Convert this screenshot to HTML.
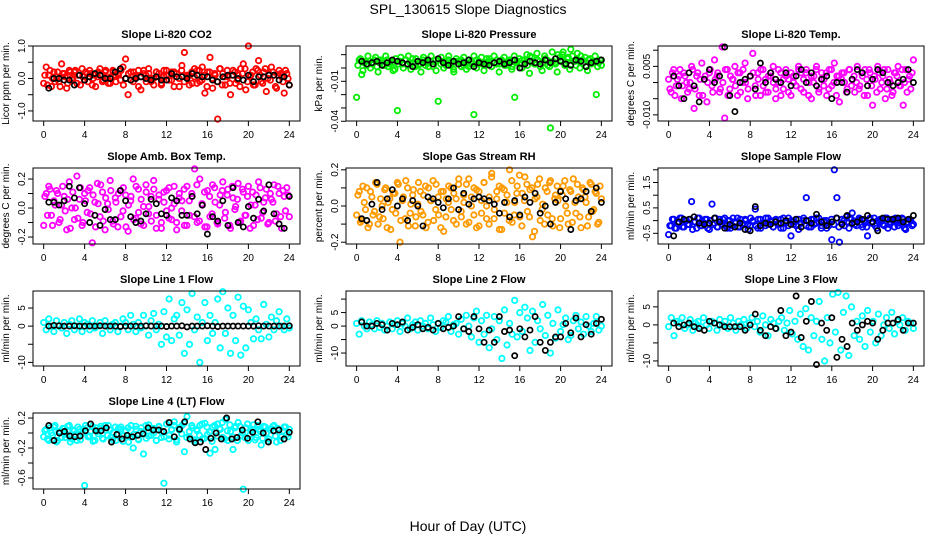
<!DOCTYPE html>
<html><head><meta charset="utf-8">
<style>
html,body{margin:0;padding:0;background:#fff;}
svg{display:block;font-family:"Liberation Sans",Arial,sans-serif;}
</style></head>
<body>
<svg id="chart" width="936" height="540" viewBox="0 0 936 540" xmlns="http://www.w3.org/2000/svg">
<rect x="0" y="0" width="936" height="540" fill="#fff"/>
<text x="468" y="14" text-anchor="middle" font-size="14">SPL_130615  Slope Diagnostics</text>
<text x="468" y="531" text-anchor="middle" font-size="14">Hour of Day (UTC)</text>
</svg>
<script>
const xTicks = [0,4,8,12,16,20,24];

const p1Color = [-0.15,0.35,0.1,-0.25,0.2,0.05,-0.1,0.45,0.15,-0.3,0.25,0,0.2,-0.15,0.1,0.3,-0.05,0.15,0.25,-0.2,0.1,0.05,0.3,-0.1,0.2,0,-0.15,0.25,0.1,0.15,-0.05,0.35,0.6,-0.5,0.2,-0.1,0.05,0.25,-0.35,0.15,0.1,0.3,-0.1,0,0.2,0.15,-0.2,0.05,0.25,0.1,-0.05,0.2,0.15,-0.25,0.4,0.8,0.05,0.1,-0.15,0.3,0.25,-0.1,0.35,-0.45,0.2,0.65,-0.3,0.1,-1.25,0.3,0.15,-0.2,0.05,-0.5,0.25,-0.15,0.1,0.3,0.45,-0.35,1.0,0.1,-0.2,0.3,0.55,-0.1,0.2,-0.4,0.15,0.35,0.1,-0.3,0.25,0.05,-0.45,0.15,-0.2];
const p1Color2 = [0.1,-0.2,0.25,0,-0.1,0.2,-0.25,0.15,0.05,-0.15,0.2,-0.05,0.25,0.1,-0.2,0.05,0.2,-0.1,0.15,0,-0.25,0.2,0.1,-0.05,0.25,-0.15,0.05,0.2,-0.1,0.1,0.25,-0.2,0.0,0.15,-0.05,0.2,0.1,-0.25,0.05,0.25,-0.1,0.15,0,-0.2,0.2,0.05,-0.15,0.25,0.1,-0.05,0.2,-0.25,0.15,0,0.25,-0.1,0.1,-0.2,0.2,0.05,-0.15,0.25,-0.05,0.1,-0.25,0.2,0,0.15,-0.1,0.3,-0.2,0.05,0.25,-0.15,0.1,0.2,-0.05,-0.25,0.15,0.3,-0.1,0.05,0.2,-0.2,0.25,0.1,-0.15,0.3,0,-0.05,0.2,-0.25,0.1,0.15,-0.1,0.25,0];
const p1Black = [-0.3,0,0,-0.05,-0.05,-0.2,0.1,-0.05,0.05,0.15,0.1,0,0,0.2,0.3,0,-0.05,0,0.05,0,-0.05,0.05,-0.05,-0.05,0.15,0.05,0.05,0,0.15,0.1,0.05,0.05,-0.05,-0.1,0.05,0.1,0.1,0,-0.05,0.1,-0.1,0.05,0.05,0.1,0.1,-0.05,0.05,-0.2];

const p2Color = [-0.022,0.006,-0.005,0.004,0.002,0.005,0.003,0.006,0.001,0.004,0.005,0.002,0.006,0.003,0.004,-0.001,-0.032,0.005,0.003,0.006,0.002,0.004,0.007,0.001,0.005,0.003,0.006,0.002,0.004,0.005,0.001,0.006,-0.025,0.003,0.005,0.002,0.006,0.004,-0.001,0.005,0.003,0.006,0.002,0.004,0.001,0.005,-0.035,0.006,0.003,0.004,0.002,0.007,0.005,0.001,0.004,0.006,0.003,0.005,0.002,0.004,0.006,0.001,-0.022,0.005,0.003,0.006,0.004,0.002,0.009,0.005,0.003,0.006,0.001,0.004,0.007,0.002,-0.045,0.005,0.003,0.010,0.006,0.012,0.004,0.008,0.014,0.005,0.002,0.006,0.009,0.004,0.001,0.006,0.003,0.005,-0.02,0.004,0.002];
const p2Color2 = [0.002,0.007,-0.002,0.005,0.009,0.0,0.004,0.008,-0.003,0.006,0.002,0.009,0.001,0.005,-0.002,0.007,0.003,0.008,0.0,0.006,0.009,-0.001,0.004,0.007,0.002,-0.003,0.008,0.005,0.001,0.009,0.003,-0.002,0.006,0.008,0.0,0.004,0.009,0.002,-0.003,0.007,0.005,0.001,0.008,-0.001,0.006,0.003,0.009,0.0,0.005,0.008,-0.002,0.004,0.007,0.001,0.009,0.003,-0.003,0.006,0.008,0.002,0.005,-0.001,0.009,0.004,0.007,0.0,0.006,0.01,-0.004,0.008,0.003,0.011,0.005,-0.002,0.009,0.006,0.001,0.012,0.004,-0.003,0.008,0.01,0.002,0.007,-0.001,0.009,0.005,0.011,0.0,0.006,0.008,-0.002,0.007,0.004,0.009,0.001,0.006];
const p2Black = [0.005,0.003,0.004,0.005,0.002,0.004,0.006,0.005,0.004,0.003,0.001,0.005,0.004,0.006,0.003,0.007,0.004,0.002,0.005,0.003,0.004,0.006,0.001,0.004,0.003,0.002,0.004,0.005,0.003,0.004,0.006,0.0,0.003,0.005,0.004,0.003,0.006,0.004,0.007,0.005,0.003,0.002,0.006,0.005,0.001,0.004,0.005,0.006];

const p3Color = [0.001,-0.003,0.004,-0.001,0.002,-0.005,0.003,0.0,-0.002,0.005,-0.008,0.002,-0.004,0.006,0.001,-0.006,0.003,-0.001,0.007,0.002,-0.003,0.011,-0.011,0.004,-0.002,0.001,0.005,-0.004,0.003,0.0,0.006,-0.005,0.002,0.009,-0.001,0.003,-0.004,0.004,0.001,-0.003,0.002,0.005,-0.005,0.0,0.003,-0.002,0.004,0.001,-0.004,0.002,-0.001,0.005,0.003,-0.003,0.004,0.0,-0.005,0.002,0.005,-0.002,0.003,0.001,-0.004,0.004,-0.001,0.006,0.002,-0.006,0.003,0.0,-0.002,0.004,0.001,-0.003,0.005,-0.001,0.002,0.004,-0.004,0.003,-0.007,0.001,0.005,-0.002,0.002,-0.005,0.004,0.0,-0.003,0.003,0.005,-0.001,-0.007,0.004,0.001,-0.002,0.007];
const p3Color2 = [-0.002,0.003,-0.004,0.001,0.004,-0.001,0.002,-0.003,0.0,0.004,-0.002,0.003,0.001,-0.004,0.002,0.0,0.004,-0.003,0.001,0.003,-0.002,0.0,0.004,-0.004,0.002,0.001,-0.001,0.003,-0.003,0.004,0.0,-0.002,0.002,0.003,-0.004,0.001,0.004,-0.001,-0.003,0.002,0.003,0.0,-0.002,0.004,-0.004,0.001,0.002,-0.003,0.003,0.0,-0.001,0.004,-0.002,0.001,0.003,-0.004,0.002,0.0,0.004,-0.003,0.001,-0.001,0.003,-0.002,0.004,0.0,-0.004,0.002,0.001,0.003,-0.003,0.004,-0.001,0.002,0.0,-0.002,0.003,-0.004,0.001,0.004,-0.001,0.002,-0.003,0.003,0.0,0.004,-0.002,0.001,-0.004,0.003,0.002,-0.001,0.004,0.0,-0.003,0.002,0.003];
const p3Black = [0.002,-0.001,-0.005,0.003,-0.001,-0.006,0.001,0.004,0.0,0.002,0.011,-0.004,-0.009,0.0,0.001,0.002,-0.002,0.006,0.0,0.003,0.001,0.0,0.003,-0.001,0.002,0.004,0.0,0.003,-0.001,0.001,0.002,-0.005,0.0,0.0,-0.003,0.001,0.004,0.003,-0.001,0.001,0.004,0.003,0.0,-0.001,0.0,0.001,0.004,0.0];

const p4Color = [-0.12,0.1,0.15,-0.05,0.05,0.12,-0.1,0.02,0.08,-0.15,0.18,0.0,-0.08,0.22,0.06,-0.12,0.1,-0.03,0.14,-0.24,0.04,0.17,-0.06,0.11,-0.15,0.03,0.19,-0.09,0.07,-0.13,0.12,-0.02,0.09,-0.16,0.05,0.2,-0.07,0.13,-0.11,0.01,0.16,-0.04,0.08,0.19,-0.14,0.06,-0.1,0.11,-0.02,0.14,-0.08,0.03,-0.15,0.1,0.05,-0.12,0.15,-0.05,0.08,0.27,-0.1,0.2,0.02,-0.13,0.12,-0.06,0.16,0.04,-0.11,0.09,0.18,-0.03,0.13,-0.14,0.07,0.01,0.17,-0.09,0.11,-0.05,0.15,0.02,-0.12,0.09,0.18,-0.07,0.04,0.13,-0.1,0.06,0.16,-0.04,0.1,-0.14,0.08,0.14,-0.06];
const p4Color2 = [0.08,-0.05,0.13,-0.12,0.02,0.1,-0.08,0.15,-0.02,0.06,-0.14,0.11,0.0,-0.07,0.14,-0.1,0.05,0.12,-0.04,0.09,-0.13,0.03,0.16,-0.09,0.07,-0.01,0.12,-0.11,0.04,0.1,-0.06,0.14,-0.13,0.02,0.08,-0.08,0.15,-0.03,0.06,-0.12,0.11,0.01,-0.09,0.13,-0.05,0.09,-0.14,0.04,0.12,-0.07,0.0,0.15,-0.1,0.07,-0.02,0.13,-0.12,0.05,0.1,-0.06,0.16,-0.09,0.03,0.11,-0.13,0.08,-0.04,0.14,-0.1,0.02,0.12,-0.07,0.09,-0.12,0.15,-0.01,0.06,-0.1,0.13,-0.05,0.08,-0.14,0.11,0.02,-0.08,0.14,-0.03,0.07,-0.11,0.1,0.04,-0.09,0.15,-0.06,0.12,-0.02,0.09];
const p4Black = [0.04,0.04,0.02,0.05,0.15,0.07,0.14,0.03,-0.1,-0.05,-0.12,-0.01,-0.08,-0.08,0.12,0.05,-0.06,-0.1,-0.09,-0.04,0.06,0.03,-0.04,-0.05,0.07,0.05,-0.05,-0.05,0.08,-0.04,0.02,-0.18,-0.06,-0.09,0.05,-0.12,0.14,-0.1,-0.13,0.01,-0.07,0.06,-0.02,0.16,-0.04,-0.11,-0.14,0.08];

const p5Color = [-0.05,0.08,-0.08,0.02,0.1,-0.1,0.05,-0.03,0.12,-0.06,0.0,0.09,-0.12,0.04,-0.02,0.07,0.13,-0.2,0.03,-0.07,0.1,-0.04,0.06,-0.11,0.01,0.08,-0.05,0.11,-0.09,0.03,0.14,-0.02,0.05,-0.12,0.08,-0.06,0.02,0.1,-0.08,0.04,0.12,-0.03,0.06,-0.1,0.15,0.0,-0.05,0.09,-0.11,0.03,0.13,-0.07,0.05,0.18,-0.02,0.08,-0.13,0.1,-0.04,0.06,0.2,-0.09,0.02,0.11,-0.06,0.07,0.16,-0.03,0.09,-0.17,0.04,0.12,-0.08,0.01,0.1,-0.05,0.14,-0.11,0.06,0.03,-0.07,0.11,0.0,-0.1,0.08,0.15,-0.04,0.05,-0.12,0.09,0.02,-0.06,0.12,-0.02,0.07,-0.09,0.04];
const p5Color2 = [0.06,-0.09,0.11,-0.02,-0.12,0.08,-0.05,0.13,-0.1,0.04,-0.07,0.1,0.02,-0.13,0.07,-0.04,0.12,-0.08,0.05,0.14,-0.11,0.01,0.09,-0.06,0.13,-0.03,0.06,-0.12,0.1,0.03,-0.08,0.12,-0.05,0.08,-0.14,0.04,0.11,-0.02,0.07,-0.1,0.15,-0.06,0.02,0.12,-0.09,0.05,0.1,-0.12,0.08,-0.04,0.13,0.0,-0.1,0.16,-0.07,0.04,0.11,-0.13,0.09,0.02,-0.08,0.14,-0.05,0.07,0.17,-0.11,0.03,0.12,-0.06,0.1,-0.14,0.05,0.15,-0.02,-0.1,0.08,0.13,-0.07,0.04,0.11,-0.12,0.06,0.14,-0.04,0.09,-0.09,0.02,0.12,-0.06,0.1,0.05,-0.11,0.13,-0.03,0.08,-0.1,0.11];
const p5Black = [-0.07,-0.08,0.01,0.13,-0.02,0.04,0.09,0.0,0.04,-0.08,0.03,0.0,-0.11,0.05,0.04,0.02,-0.01,0.04,0.1,-0.02,0.07,0.01,0.04,0.05,0.04,0.03,0.01,-0.04,0.02,-0.06,0.03,-0.05,0.05,0.02,0.07,-0.04,0.0,-0.1,0.02,0.08,0.04,-0.13,0.03,0.04,0.08,-0.03,0.1,0.02];

const p6Color = [-0.55,-0.2,0.05,-0.3,-0.1,0.1,-0.25,0.0,-0.15,0.75,-0.05,-0.3,0.1,-0.2,-0.1,0.05,-0.35,0.65,-0.1,-0.25,0.05,-0.15,0.1,-0.3,0.0,-0.2,-0.05,0.1,-0.25,-0.1,0.05,-0.15,-0.2,0.0,0.45,-0.3,0.05,-0.1,-0.2,0.1,-0.05,-0.25,0.0,-0.15,0.05,-0.3,-0.1,0.1,-0.6,-0.05,-0.2,0.05,-0.1,0.0,0.9,-0.25,0.05,-0.15,0.1,-0.05,-0.2,0.0,-0.3,-0.1,-0.75,2.0,0.9,-0.85,0.05,-0.2,-0.05,0.1,0.3,-0.15,0.0,0.05,-0.25,-0.1,-0.6,0.1,-0.05,-0.2,0.0,0.05,-0.15,0.1,-0.3,-0.05,0.0,0.1,-0.2,-0.05,0.05,-0.35,-0.1,0.0,-0.15];
const p6Color2 = [-0.2,0.05,-0.3,-0.1,0.1,-0.25,0.0,-0.15,0.05,-0.35,-0.05,0.1,-0.2,-0.1,0.05,-0.3,0.0,-0.15,0.1,-0.25,-0.05,0.05,-0.2,0.0,-0.3,0.1,-0.1,-0.25,0.05,-0.15,0.0,-0.35,0.1,-0.05,-0.2,0.05,-0.3,-0.1,0.1,-0.15,0.0,-0.25,0.05,-0.1,-0.3,0.1,-0.05,-0.2,0.0,-0.15,0.05,-0.35,-0.1,0.1,-0.2,0.0,-0.25,0.05,-0.1,0.1,-0.3,-0.05,0.0,-0.2,0.05,-0.15,0.1,-0.25,-0.1,0.0,0.15,-0.3,0.05,-0.05,-0.2,0.1,-0.15,0.0,-0.25,0.05,-0.1,0.1,-0.3,-0.05,0.0,-0.2,0.1,-0.15,0.05,-0.25,0.0,-0.1,0.1,-0.3,-0.05,0.05,-0.2];
const p6Black = [-0.6,-0.05,0.05,0.05,0.15,-0.1,-0.15,-0.1,0.1,-0.05,-0.3,-0.15,-0.25,-0.1,-0.35,-0.4,0.55,-0.2,-0.1,-0.15,-0.05,-0.1,0.0,-0.15,0.05,-0.25,0.0,-0.1,0.25,-0.05,-0.2,-0.05,0.1,-0.15,0.2,-0.1,-0.05,0.05,0.2,-0.05,-0.4,0.1,0.05,0.05,0.1,-0.05,0.05,0.2];

const p7Color = [1,-1,2,0,-1.5,1.5,0,-0.5,1,-2,0.5,1.5,-1,0,2,-1.5,1,0.5,-1,1.5,-0.5,0,1,-2,1.5,0,-1,0.5,1,-1.5,0,2,1,-1,3,0.5,-1.5,1,-0.5,3,0,-2.5,1.5,3.5,-1,0.5,-5,4,-3,7.5,-4,2,3,-2.5,6.5,-7.5,4.5,-5,9,-1,2.5,-10,1,6.5,-4,3,-2,1,7.5,-6,9.5,-2,5,-7.5,3,-4,8,-8,5.5,-6,4.5,1,-3.5,2,-1,-3.5,6,0.5,-3,2.5,-1,1.5,4,0,-1,2,-0.5];
const p7Black = [0,0.2,0.1,0,0,0.1,0,0,0,0,0.1,0,0,0,-0.1,0,0,0,0,0.1,0,0,0,-0.1,0,0,0.1,-0.2,0,0,0,0.1,0,-0.1,0,0,0,0,0,0,0,0.1,0,0,0,0,0,0.1];

const p8Color = [1,-3,2,0,-1,1.5,0.5,-1,2,-0.5,1,-1.5,0,1.5,-1,0.5,2,-2,1,0,3,-1,0.5,1.5,-1.5,2,0,1,-1,3,0.5,-2,1,-0.5,2,1.5,3.5,-2,0.5,1,-3,2.5,-1,4,0,-4,3,5.5,-6,2,-3,4,-8,-1,3.5,-5,2,-12,6,-7,1,-3,9.5,-4,5,-2,7,3,-9,5.5,-6,2,-1,8,-3.5,4,-10,1,-4.5,6,-2,0.5,3,-5,-3.5,2,4,-1,1.5,-3,3.5,0,-2,1,3.5,-1.5,0];
const p8Black = [1.5,0,0,1,0.5,-1.5,1,0.5,1.5,-1.5,-0.5,0.5,-1,-0.5,-1.5,1,-1,-0.5,0,3.5,-1,-2,3.5,-1,-6,-1.5,-6,3.5,-2,-1.5,-11,-1,-4,-1.5,3.5,-6,-9,-6,-4,-4,1,-2.5,3,-4,0.5,-3,1,2.5];

const p9Color = [-0.5,2,-3,1,0.5,2,-1,0,1.5,-1.5,0.5,1,-0.5,2,0,-1,1,0.5,-1.5,1.5,0,1,-1,2,0.5,-1.5,1,0,1.5,-1,0.5,2,-0.5,1,-2,2.5,0,-3,1.5,0.5,-1,1,2,-1.5,0.5,4,-2.5,1,-4,3,-6,4.5,-7,2,-3,1,6.5,-4,-10,2,-5,8.5,-2,9,-7,3.5,8,-8.5,5,-3,1,-4,2.5,-6,4,-2,1,-5,3,-3,0,2,-1,3.5,-2.5,1,0,2,-1.5,1,0.5,-1];
const p9Black = [0.5,-0.5,0,0.5,-0.5,-1,-1.5,1,0.5,0,-0.5,-0.5,-0.5,-0.5,-1.5,0,3,-1.5,-3,-0.5,-1,4,-3,-2,8,-3.5,1,6.5,-11,0.5,-1.5,2,-9,-4,-6,0.5,-1.5,0,1,0.5,-4,-1.5,0.5,0.5,1.5,-1.5,0.5,0.5];

const p10Color = [-0.05,0.05,-0.1,0.0,0.08,-0.12,0.02,-0.06,0.06,-0.02,0.1,-0.08,0.03,-0.1,0.05,0.0,-0.7,0.07,-0.04,0.09,-0.1,0.02,0.06,-0.07,0.1,-0.03,0.04,-0.09,0.08,-0.01,0.05,-0.11,0.03,0.07,-0.05,-0.2,0.09,-0.08,0.02,-0.28,0.1,-0.04,0.06,0.0,-0.1,0.08,-0.06,-0.67,0.12,-0.03,0.05,0.15,-0.09,0.04,0.1,-0.25,0.22,-0.05,0.07,-0.12,0.03,0.1,-0.08,0.13,-0.02,-0.27,0.08,-0.22,0.12,0.05,-0.06,0.18,-0.1,0.02,-0.22,0.09,0.14,-0.04,-0.75,0.07,-0.1,0.03,0.11,-0.06,0.05,-0.16,0.09,0.0,-0.08,0.06,0.1,-0.12,0.04,-0.05,0.08,-0.02,0.05];
const p10Color2 = [0.03,-0.08,0.07,-0.03,0.1,-0.1,0.0,0.06,-0.06,0.09,-0.12,0.04,-0.02,0.08,-0.09,0.05,0.1,-0.05,0.02,-0.11,0.07,-0.01,0.09,-0.08,0.04,0.1,-0.06,0.01,-0.1,0.06,0.08,-0.04,0.03,-0.12,0.1,-0.02,0.05,-0.09,0.07,0.0,-0.07,0.11,-0.03,0.06,-0.1,0.09,0.02,-0.05,0.12,-0.08,0.04,0.1,-0.12,0.07,-0.01,0.13,-0.06,0.02,0.1,-0.09,0.05,-0.03,0.12,-0.07,0.08,0.01,-0.11,0.1,-0.04,0.06,0.14,-0.08,0.03,0.11,-0.05,0.07,-0.1,0.09,0.0,-0.06,0.12,-0.02,0.05,-0.09,0.1,0.02,-0.07,0.08,-0.11,0.04,0.09,-0.04,0.06,-0.1,0.03,0.08,-0.05];
const p10Black = [0.1,-0.1,0.0,0.02,-0.04,-0.05,-0.04,0.03,0.12,0.03,0.03,0.07,-0.12,-0.02,-0.08,-0.03,-0.05,-0.03,-0.01,0.07,0.04,0.04,0.02,0.14,-0.05,0.05,0.15,-0.08,-0.13,-0.12,-0.22,-0.07,0.0,-0.08,0.2,-0.08,-0.06,0.04,-0.07,0.01,0.15,0.0,-0.12,0.03,0.04,-0.08,0.01];

const NS = "http://www.w3.org/2000/svg";
const svg = document.getElementById('chart');
function mk(tag, attrs, parent){
  const e = document.createElementNS(NS, tag);
  for (const k in attrs) e.setAttribute(k, attrs[k]);
  (parent||svg).appendChild(e);
  return e;
}
const cols = [[33,300],[346,612],[658,924]];
const rows = [[46,121],[168,244],[291,366],[413,489]];
const panels = [
 {key:'co2', title:'Slope Li-820 CO2', ylab:'Licor ppm per min.', c:0,r:0, ymin:-1.31,ymax:1.0, ticks:[-1,-0.5,0,0.5,1], labels:[[-1,'-1.0'],[0,'0.0'],[1,'1.0']], color:'#ff0000', col:p1Color, col2:p1Color2, blk:p1Black},
 {key:'pressure', title:'Slope Li-820 Pressure', ylab:'kPa per min.', c:1,r:0, ymin:-0.0398,ymax:0.0165, ticks:[-0.04,-0.03,-0.02,-0.01,0,0.01], labels:[[-0.04,'-0.04'],[-0.01,'-0.01']], color:'#00ee00', col:p2Color, col2:p2Color2, blk:p2Black},
 {key:'li820-temp', title:'Slope Li-820 Temp.', ylab:'degrees C per min.', c:2,r:0, ymin:-0.0119,ymax:0.0113, ticks:[-0.01,-0.005,0,0.005,0.01], labels:[[-0.01,'-0.010'],[0.005,'0.005']], color:'#ff00ff', col:p3Color, col2:p3Color2, blk:p3Black},
 {key:'amb-box-temp', title:'Slope Amb. Box Temp.', ylab:'degrees C per min.', c:0,r:1, ymin:-0.248,ymax:0.276, ticks:[-0.2,-0.1,0,0.1,0.2], labels:[[-0.2,'-0.2'],[0,'0.0'],[0.2,'0.2']], color:'#ff00ff', col:p4Color, col2:p4Color2, blk:p4Black},
 {key:'gas-rh', title:'Slope Gas Stream RH', ylab:'percent per min.', c:1,r:1, ymin:-0.21,ymax:0.21, ticks:[-0.2,-0.1,0,0.1,0.2], labels:[[-0.2,'-0.2'],[0,'0.0'],[0.2,'0.2']], color:'#ff9a00', col:p5Color, col2:p5Color2, blk:p5Black},
 {key:'sample-flow', title:'Slope Sample Flow', ylab:'ml/min per min.', c:2,r:1, ymin:-0.92,ymax:2.07, ticks:[-0.5,0,0.5,1,1.5,2], labels:[[-0.5,'-0.5'],[0.5,'0.5'],[1.5,'1.5']], color:'#0000ff', col:p6Color, col2:p6Color2, blk:p6Black},
 {key:'line1-flow', title:'Slope Line 1 Flow', ylab:'ml/min per min.', c:0,r:2, ymin:-11,ymax:9.7, ticks:[-10,-5,0,5], labels:[[-10,'-10'],[0,'0'],[5,'5']], color:'#00ffff', col:p7Color, col2:null, blk:p7Black},
 {key:'line2-flow', title:'Slope Line 2 Flow', ylab:'ml/min per min.', c:1,r:2, ymin:-14.8,ymax:13, ticks:[-10,-5,0,5,10], labels:[[-10,'-10'],[0,'0'],[5,'5']], color:'#00ffff', col:p8Color, col2:null, blk:p8Black},
 {key:'line3-flow', title:'Slope Line 3 Flow', ylab:'ml/min per min.', c:2,r:2, ymin:-11.4,ymax:9.4, ticks:[-10,-5,0,5], labels:[[-10,'-10'],[0,'0'],[5,'5']], color:'#00ffff', col:p9Color, col2:null, blk:p9Black},
 {key:'line4-flow', title:'Slope Line 4 (LT) Flow', ylab:'ml/min per min.', c:0,r:3, ymin:-0.747,ymax:0.267, ticks:[-0.6,-0.4,-0.2,0,0.2], labels:[[-0.6,'-0.6'],[-0.2,'-0.2'],[0.2,'0.2']], color:'#00ffff', col:p10Color, col2:p10Color2, blk:p10Black}
];

panels.forEach(p => {
  const [x0,x1] = cols[p.c], [y0,y1] = rows[p.r];
  const g = mk('g', {});
  
  
  const w = x1-x0, h = y1-y0;
  const xs = v => x0 + w*(0.04 + 0.92*v/24);
  const ys = v => y1 - h*(v - p.ymin)/(p.ymax - p.ymin);

  const t = mk('text', {x:(x0+x1)/2, y:y0-8, 'text-anchor':'middle', 'font-size':11, 'font-weight':'bold'}, g);
  t.textContent = p.title;
  
  

  const yl = mk('text', {x:0, y:0, 'text-anchor':'middle', 'font-size':10, transform:`translate(${x0-24},${(y0+y1)/2}) rotate(-90)`}, g);
  yl.textContent = p.ylab;
  
  

  const pts = mk('g', {fill:'none', stroke:p.color, 'stroke-width':1.8}, g);
  
  
  const n = p.col.length;
  p.col.forEach((v,i) => {
    const hr = i*24/(n-1);
    const c = mk('circle', {cx:xs(hr).toFixed(1), cy:ys(v).toFixed(1), r:2.7}, pts);
    
    
  });
  if (p.col2) {
    const n2 = p.col2.length;
    p.col2.forEach((v,i) => {
      const hr = (i+0.5)*24/n2;
      const c = mk('circle', {cx:xs(hr).toFixed(1), cy:ys(v).toFixed(1), r:2.7}, pts);
      
      
    });
  }
  const bp = mk('g', {fill:'none', stroke:'#000', 'stroke-width':1.7}, g);
  
  
  const m = p.blk.length;
  p.blk.forEach((v,i) => {
    const hr = 0.5 + i*23.5/(m-1);
    const c = mk('circle', {cx:xs(hr).toFixed(1), cy:ys(v).toFixed(1), r:2.6}, bp);
    
    
  });

  const box = mk('rect', {x:x0, y:y0, width:w, height:h, fill:'none', stroke:'#000', 'stroke-width':1}, g);
  
  

  const xa = mk('g', {}, g);
  
  
  mk('line', {x1:xs(0), x2:xs(24), y1:y1, y2:y1, stroke:'#000'}, xa);
  xTicks.forEach(v => {
    mk('line', {x1:xs(v), x2:xs(v), y1:y1, y2:y1+5, stroke:'#000'}, xa);
    const tl = mk('text', {x:xs(v), y:y1+17, 'text-anchor':'middle', 'font-size':10}, xa);
    tl.textContent = v;
    
    
  });
  const ya = mk('g', {}, g);
  
  
  mk('line', {x1:x0, x2:x0, y1:ys(p.ticks[0]), y2:ys(p.ticks[p.ticks.length-1]), stroke:'#000'}, ya);
  p.ticks.forEach(v => {
    mk('line', {x1:x0-5, x2:x0, y1:ys(v), y2:ys(v), stroke:'#000'}, ya);
  });
  p.labels.forEach(([v,s]) => {
    const tl = mk('text', {x:0, y:0, 'text-anchor':'middle', 'font-size':10, transform:`translate(${x0-8},${ys(v)}) rotate(-90)`}, ya);
    tl.textContent = s;
    
    
  });
});
</script>
</body></html>
